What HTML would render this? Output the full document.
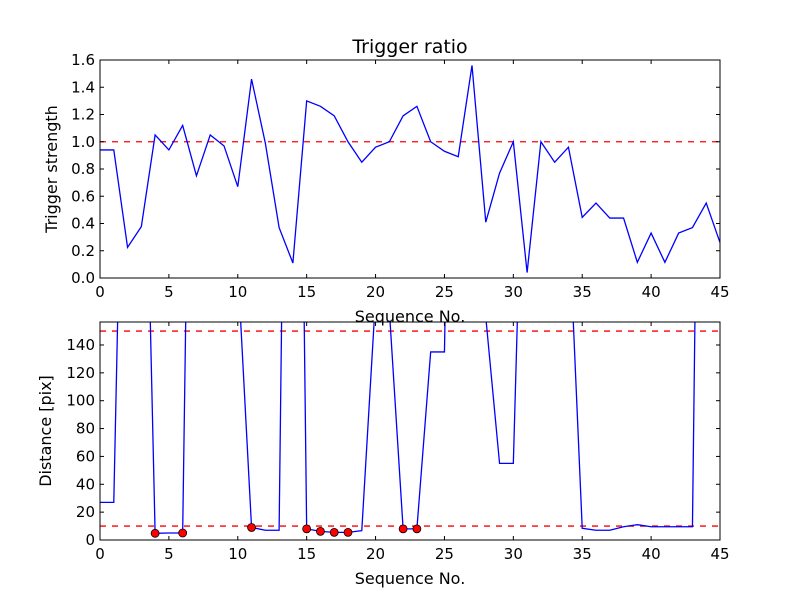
<!DOCTYPE html>
<html><head><meta charset="utf-8"><style>
body{margin:0;background:#fff;}
svg{display:block;font-family:"DejaVu Sans","Liberation Sans",sans-serif;}
</style></head><body>
<svg id="fig" width="800" height="600" viewBox="0 0 800 600" xmlns="http://www.w3.org/2000/svg">
<rect width="800" height="600" fill="#fff"/>
</svg>
<script>
const seqNo = [];
for (let i = 0; i <= 45; i++) seqNo.push(i);
const triggerStrength = [0.94,0.94,0.225,0.377,1.05,0.94,1.12,0.75,1.05,0.97,0.67,1.46,0.99,0.37,0.11,1.30,1.26,1.19,1.0,0.85,0.96,1.0,1.19,1.26,1.0,0.93,0.89,1.56,0.41,0.77,1.0,0.04,1.0,0.85,0.96,0.445,0.55,0.44,0.44,0.115,0.33,0.115,0.33,0.37,0.55,0.26];
const distance = [27,27,491,440,4.8,5,5,696,500,500,196,9,7,7,840,8,6.2,5.5,5.5,6.7,174,165,8,8,135,135,685,500,160,55,55,407,500,500,237,8.4,7,7,9.5,11,9.5,9.5,9.5,9.5,829,500];
const markedIdx = [4,6,11,15,16,17,18,22,23];
const xTicks = [0,5,10,15,20,25,30,35,40,45];
const topYTicks = [0,0.2,0.4,0.6,0.8,1.0,1.2,1.4,1.6];
const botYTicks = [0,20,40,60,80,100,120,140];
const topThreshold = [1.0];
const botThresholds = [10,150];

const NS = "http://www.w3.org/2000/svg";
const svg = document.getElementById("fig");
function mk(tag, attrs, parent){const e=document.createElementNS(NS,tag);for(const k in attrs)e.setAttribute(k,attrs[k]);(parent||svg).appendChild(e);return e;}

function panel(cfg){
  const {L,R,T,B,ymin,ymax,name} = cfg;
  const xs = v => L + (v-0)/(45-0)*(R-L);
  const ys = v => B - (v-ymin)/(ymax-ymin)*(B-T);
  const g = mk("g",{});
  
  
  const clipId = name+"-clip";
  const cp = mk("clipPath",{id:clipId},g);
  mk("rect",{x:L,y:T,width:R-L,height:B-T},cp);
  const plot = mk("g",{"clip-path":"url(#"+clipId+")"},g);
  return {g,plot,xs,ys};
}
function axesFrame(p,cfg){
  const {L,R,T,B,yticks,fmt,xlabel,ylabel,name} = cfg;
  const g=p.g;
  const fr = mk("rect",{x:L,y:T,width:R-L,height:B-T,fill:"none",stroke:"#000","stroke-width":1},g);
  
  
  xTicks.forEach(v=>{
    const x=p.xs(v);
    mk("line",{x1:x,x2:x,y1:B,y2:B-4,stroke:"#000"},g);
    mk("line",{x1:x,x2:x,y1:T,y2:T+4,stroke:"#000"},g);
    const t=mk("text",{x:x,y:B+19,"font-size":15,"text-anchor":"middle"},g);
    t.textContent=v;
    
    
  });
  yticks.forEach(v=>{
    const y=p.ys(v);
    mk("line",{x1:L,x2:L+4,y1:y,y2:y,stroke:"#000"},g);
    mk("line",{x1:R,x2:R-4,y1:y,y2:y,stroke:"#000"},g);
    const t=mk("text",{x:L-5,y:y+5,"font-size":15,"text-anchor":"end"},g);
    t.textContent=fmt(v);
    
    
  });
  const xl=mk("text",{x:(L+R)/2,y:B+44,"font-size":16,"text-anchor":"middle"},g);
  xl.textContent=xlabel;
  
  
  const yx=cfg.ylabelX;
  const yl=mk("text",{x:yx,y:(T+B)/2,"font-size":16,"text-anchor":"middle",transform:`rotate(-90 ${yx} ${(T+B)/2})`},g);
  yl.textContent=ylabel;
  
  
}

// Top panel
const c1={L:100,R:720,T:60,B:278,ymin:0,ymax:1.6,yticks:topYTicks,fmt:v=>v.toFixed(1),name:"trigger-ratio-panel",xlabel:"Sequence No.",ylabel:"Trigger strength",ylabelX:57};
const p1=panel(c1);
topThreshold.forEach(v=>{
  const l=mk("line",{x1:c1.L,x2:c1.R,y1:p1.ys(v),y2:p1.ys(v),stroke:"#f00","stroke-width":1.3,"stroke-dasharray":"6,6"},p1.plot);
  
  
});
const l1=mk("polyline",{points:seqNo.map((s,i)=>p1.xs(s)+","+p1.ys(triggerStrength[i])).join(" "),fill:"none",stroke:"#00f","stroke-width":1.3},p1.plot);


axesFrame(p1,c1);
const title=mk("text",{x:410,y:53,"font-size":19,"text-anchor":"middle"});
title.textContent="Trigger ratio";



// Bottom panel
const c2={L:100,R:720,T:322,B:540,ymin:0,ymax:156.5,yticks:botYTicks,fmt:v=>String(v),name:"distance-panel",xlabel:"Sequence No.",ylabel:"Distance [pix]",ylabelX:51};
const p2=panel(c2);
botThresholds.forEach(v=>{
  const l=mk("line",{x1:c2.L,x2:c2.R,y1:p2.ys(v),y2:p2.ys(v),stroke:"#f00","stroke-width":1.3,"stroke-dasharray":"6,6"},p2.plot);
  
  
});
const l2=mk("polyline",{points:seqNo.map((s,i)=>p2.xs(s)+","+p2.ys(distance[i])).join(" "),fill:"none",stroke:"#00f","stroke-width":1.3},p2.plot);


markedIdx.forEach(i=>{
  const c=mk("circle",{cx:p2.xs(seqNo[i]),cy:p2.ys(distance[i]),r:4,fill:"#f00",stroke:"#000","stroke-width":0.8},p2.g);
  
  
});
axesFrame(p2,c2);
</script>
</body></html>
